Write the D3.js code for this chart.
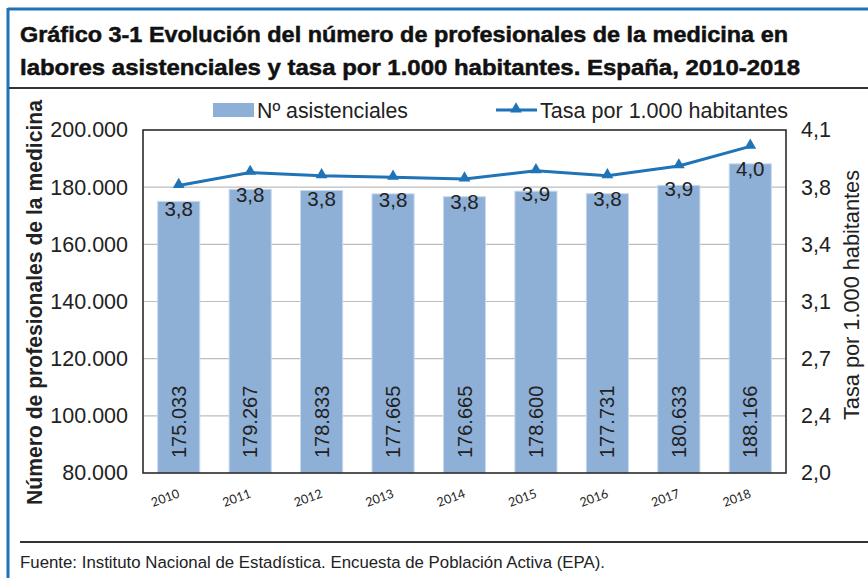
<!DOCTYPE html>
<html>
<head>
<meta charset="utf-8">
<script src="https://cdn.jsdelivr.net/npm/d3@7"></script>
<style>
  html, body { margin: 0; padding: 0; background: #fff; }
  svg { display: block; font-family: "Liberation Sans", Arial, sans-serif; }
</style>
</head>
<body>
<svg id="chart" width="868" height="578"></svg>
<script>
// data
const years = ["2010", "2011", "2012", "2013", "2014", "2015", "2016", "2017", "2018"];
const asistenciales = [175033, 179267, 178833, 177665, 176665, 178600, 177731, 180633, 188166];
const tasa = [3.76, 3.84, 3.82, 3.81, 3.80, 3.85, 3.82, 3.88, 4.00];
const tasaLabels = ["3,8", "3,8", "3,8", "3,8", "3,8", "3,9", "3,8", "3,9", "4,0"];
const leftTicks = [80000, 100000, 120000, 140000, 160000, 180000, 200000];
const rightTicks = [2.0, 2.35, 2.7, 3.05, 3.4, 3.75, 4.1];
const rightTickLabels = ["2,0", "2,4", "2,7", "3,1", "3,4", "3,8", "4,1"];

const titleLines = [
    "Gráfico 3-1 Evolución del número de profesionales de la medicina en",
    "labores asistenciales y tasa por 1.000 habitantes. España, 2010-2018"
];
const source = "Fuente: Instituto Nacional de Estadística. Encuesta de Población Activa (EPA).";

const svg = d3.select("#chart");
const W = 868, H = 578;
const plot = { left: 143, top: 130, right: 786, bottom: 473 };
const blue = "#1f73b7";
const barColor = "#8eafd6";
const textColor = "#222";

// frame: blue border top + left
svg.append("line").attr("x1", 8).attr("x2", W).attr("y1", 9).attr("y2", 9)
    .attr("stroke", blue).attr("stroke-width", 3);
svg.append("line").attr("x1", 8).attr("x2", 8).attr("y1", 8).attr("y2", H)
    .attr("stroke", blue).attr("stroke-width", 3);

// title
svg.selectAll(".title")
    .data(titleLines)
    .join("text")
    .attr("class", "title")
    .attr("x", 20)
    .attr("y", (d, i) => 42 + i * 33)
    .attr("textLength", (d, i) => i === 0 ? 768 : 780)
    .attr("lengthAdjust", "spacingAndGlyphs")
    .style("font-weight", "bold")
    .style("font-size", "22px")
    .style("fill", "#111")
    .style("stroke", "#111")
    .style("stroke-width", 0.5)
    .text(d => d);

svg.append("line").attr("x1", 9).attr("x2", W).attr("y1", 88).attr("y2", 88)
    .attr("stroke", "#333").attr("stroke-width", 2);
svg.append("line").attr("x1", 20).attr("x2", W).attr("y1", 542).attr("y2", 542)
    .attr("stroke", "#333").attr("stroke-width", 2);

svg.append("text")
    .attr("x", 20).attr("y", 568)
    .attr("textLength", 585)
    .attr("lengthAdjust", "spacingAndGlyphs")
    .style("font-size", "16.8px")
    .style("fill", textColor)
    .text(source);

// scales
const x = d3.scaleBand().domain(years).range([plot.left, plot.right]).paddingInner(0.41).paddingOuter(0.205);
const yLeft = d3.scaleLinear().domain([80000, 200000]).range([plot.bottom, plot.top]);
const yRight = d3.scaleLinear().domain([2.0, 4.1]).range([plot.bottom, plot.top]);
const fmtThousands = d3.formatLocale({ decimal: ",", thousands: ".", grouping: [3] }).format(",");

// gridlines
svg.append("g")
    .selectAll("line")
    .data(leftTicks.slice(1, -1))
    .join("line")
    .attr("x1", plot.left).attr("x2", plot.right)
    .attr("y1", d => yLeft(d)).attr("y2", d => yLeft(d))
    .attr("stroke", "#bdbdbd").attr("stroke-width", 1.2);

// bars
svg.append("g")
    .selectAll("rect")
    .data(years)
    .join("rect")
    .attr("x", d => x(d))
    .attr("width", x.bandwidth())
    .attr("y", (d, i) => yLeft(asistenciales[i]))
    .attr("height", (d, i) => plot.bottom - yLeft(asistenciales[i]))
    .attr("fill", barColor)
    .attr("stroke", "#c9daee")
    .attr("stroke-width", 1);

// bar value labels (rotated)
svg.append("g")
    .selectAll("text")
    .data(years)
    .join("text")
    .attr("transform", d => `translate(${x(d) + x.bandwidth() / 2 + 7}, ${plot.bottom - 15}) rotate(-90)`)
    .style("font-size", "20px")
    .style("fill", textColor)
    .text((d, i) => fmtThousands(asistenciales[i]));

// plot frame
svg.append("rect")
    .attr("x", plot.left).attr("y", plot.top)
    .attr("width", plot.right - plot.left).attr("height", plot.bottom - plot.top)
    .attr("fill", "none").attr("stroke", "#2b2b2b").attr("stroke-width", 1.6);

// left axis
const leftAxis = svg.append("g")
    .attr("transform", `translate(${plot.left},0)`)
    .call(d3.axisLeft(yLeft).tickValues(leftTicks).tickSize(0).tickPadding(15)
        .tickFormat(d => fmtThousands(d)));
leftAxis.select(".domain").remove();
leftAxis.selectAll("text")
    .style("font-size", "21.5px")
    .style("font-family", "'Liberation Sans', Arial, sans-serif")
    .style("fill", textColor);

// right axis
const rightAxis = svg.append("g")
    .attr("transform", `translate(${plot.right},0)`)
    .call(d3.axisRight(yRight).tickValues(rightTicks).tickSize(0).tickPadding(15)
        .tickFormat((d, i) => rightTickLabels[i]));
rightAxis.select(".domain").remove();
rightAxis.selectAll("text")
    .style("font-size", "21.5px")
    .style("font-family", "'Liberation Sans', Arial, sans-serif")
    .style("fill", textColor);

// x axis labels (small, tilted)
svg.append("g")
    .selectAll("text")
    .data(years)
    .join("text")
    .attr("transform", d => `translate(${x(d) + x.bandwidth() / 2 - 12}, 502) rotate(-20)`)
    .attr("text-anchor", "middle")
    .style("font-family", "Lato, 'Open Sans', sans-serif")
    .style("font-size", "12.5px")
    .style("fill", textColor)
    .text(d => d);

// axis titles
svg.append("text")
    .attr("transform", `translate(42, ${(100 + 505) / 2}) rotate(-90)`)
    .attr("text-anchor", "middle")
    .attr("textLength", 405)
    .attr("lengthAdjust", "spacingAndGlyphs")
    .style("font-size", "21.5px")
    .style("font-weight", "bold")
    .style("fill", textColor)
    .text("Número de profesionales de la medicina");

svg.append("text")
    .attr("transform", `translate(859, 295) rotate(-90)`)
    .attr("text-anchor", "middle")
    .attr("textLength", 250)
    .attr("lengthAdjust", "spacingAndGlyphs")
    .style("font-size", "22px")
    .style("fill", textColor)
    .text("Tasa por 1.000 habitantes");

// line series
const triangle = d3.symbol().type(d3.symbolTriangle).size(60);
const line = d3.line()
    .x((d, i) => x(years[i]) + x.bandwidth() / 2)
    .y(d => yRight(d));

svg.append("path")
    .datum(tasa)
    .attr("d", line)
    .attr("fill", "none")
    .attr("stroke", blue)
    .attr("stroke-width", 3);

svg.append("g")
    .selectAll("path")
    .data(tasa)
    .join("path")
    .attr("transform", (d, i) => `translate(${x(years[i]) + x.bandwidth() / 2}, ${yRight(d) - 1})`)
    .attr("d", triangle)
    .attr("fill", blue);

svg.append("g")
    .selectAll("text")
    .data(tasa)
    .join("text")
    .attr("x", (d, i) => x(years[i]) + x.bandwidth() / 2)
    .attr("y", d => yRight(d) + 30)
    .attr("text-anchor", "middle")
    .style("font-size", "20.5px")
    .style("fill", textColor)
    .text((d, i) => tasaLabels[i]);

// legend
const legend = svg.append("g");
legend.append("rect")
    .attr("x", 213).attr("y", 103).attr("width", 41).attr("height", 14)
    .attr("fill", barColor);
legend.append("text")
    .attr("x", 257).attr("y", 118)
    .attr("textLength", 151)
    .attr("lengthAdjust", "spacingAndGlyphs")
    .style("font-size", "21.5px").style("fill", textColor)
    .text("Nº asistenciales");
legend.append("line")
    .attr("x1", 496).attr("x2", 537).attr("y1", 110).attr("y2", 110)
    .attr("stroke", blue).attr("stroke-width", 3);
legend.append("path")
    .attr("transform", "translate(516,109)")
    .attr("d", triangle)
    .attr("fill", blue);
legend.append("text")
    .attr("x", 540).attr("y", 118)
    .attr("textLength", 248)
    .attr("lengthAdjust", "spacingAndGlyphs")
    .style("font-size", "21.5px").style("fill", textColor)
    .text("Tasa por 1.000 habitantes");
</script>
</body>
</html>
